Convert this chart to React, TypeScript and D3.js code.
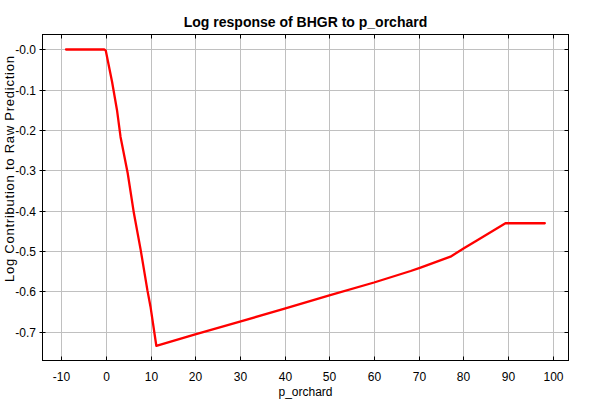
import React from "react";
import * as d3 from "d3";

const xValues = [-8.9, -0.3, 0, 1.4, 2.5, 3.3, 4.9, 6.3, 7.8, 9.3, 10.0, 11.3, 20, 30, 40, 50, 60, 68.2, 70.4, 77.1, 80.1, 83.1, 89.4, 98.2];
const yValues = [0, 0, -0.003, -0.08, -0.15, -0.217, -0.307, -0.407, -0.497, -0.597, -0.638, -0.735, -0.7065, -0.675, -0.643, -0.61, -0.578, -0.5495, -0.541, -0.514, -0.493, -0.473, -0.431, -0.431];
const xTicks = [-10, 0, 10, 20, 30, 40, 50, 60, 70, 80, 90, 100];
const yTicks = [0, -0.1, -0.2, -0.3, -0.4, -0.5, -0.6, -0.7];
const yTickLabels = ["-0.0", "-0.1", "-0.2", "-0.3", "-0.4", "-0.5", "-0.6", "-0.7"];
const title = "Log response of BHGR to p_orchard";
const xTitle = "p_orchard";
const yTitle = "Log Contribution to Raw Prediction";

const W = 600, H = 400;
const L = 42.5, R = 568.5, T = 34.5, B = 360.5;
const font = "'Liberation Sans', Arial, sans-serif";

export default function App() {
  const x = d3.scaleLinear().domain([-14.16, 103.5]).range([L, R]);
  const y = d3.scaleLinear().domain([0.0372, -0.7715]).range([T, B]);
  const pts = xValues.map((v, i) => [v, yValues[i]] as [number, number]);
  const line = d3.line<[number, number]>().x(d => x(d[0])).y(d => y(d[1]));
  return (
    <svg width={W} height={H} style={{ position: "absolute", left: 0, top: 0, background: "#fff" }}>
      <rect x={0} y={0} width={W} height={H} fill="#fff" />
      {xTicks.map(t => (
        <line key={"gx" + t} x1={Math.round(x(t)) + 0.5} x2={Math.round(x(t)) + 0.5} y1={T} y2={B} stroke="#c0c0c0" strokeWidth={1} />
      ))}
      {yTicks.map(t => (
        <line key={"gy" + t} x1={L} x2={R} y1={Math.round(y(t)) + 0.5} y2={Math.round(y(t)) + 0.5} stroke="#c0c0c0" strokeWidth={1} />
      ))}
      <path d={line(pts) || ""} fill="none" stroke="#ff0000" strokeWidth={2.3} strokeLinejoin="round" strokeLinecap="round" />
      <rect x={L} y={T} width={R - L} height={B - T} fill="none" stroke="#000" strokeWidth={1} />
      {xTicks.map(t => {
        const px = Math.round(x(t)) + 0.5;
        return (
          <g key={"tx" + t}>
            <line x1={px} x2={px} y1={B} y2={B - 4} stroke="#000" />
            <line x1={px} x2={px} y1={T} y2={T + 4} stroke="#000" />
            <text x={px} y={381} textAnchor="middle" fontFamily={font} fontSize={12} fill="#000">{t}</text>
          </g>
        );
      })}
      {yTicks.map((t, i) => {
        const py = Math.round(y(t)) + 0.5;
        return (
          <g key={"ty" + t}>
            <line x1={L - 3} x2={L + 3} y1={py} y2={py} stroke="#000" />
            <line x1={R} x2={R - 4} y1={py} y2={py} stroke="#000" />
            <text x={36} y={py + 4.5} textAnchor="end" fontFamily={font} fontSize={12} fill="#000">{yTickLabels[i]}</text>
          </g>
        );
      })}
      <text x={(L + R) / 2} y={27} textAnchor="middle" fontFamily={font} fontSize={14} fontWeight="bold" fill="#000">{title}</text>
      <text x={(L + R) / 2} y={396} textAnchor="middle" fontFamily={font} fontSize={12} fill="#000">{xTitle}</text>
      <text transform={`translate(14,${169}) rotate(-90)`} textAnchor="middle" fontFamily={font} fontSize={13} textLength={226} lengthAdjust="spacing" fill="#000">{yTitle}</text>
    </svg>
  );
}
